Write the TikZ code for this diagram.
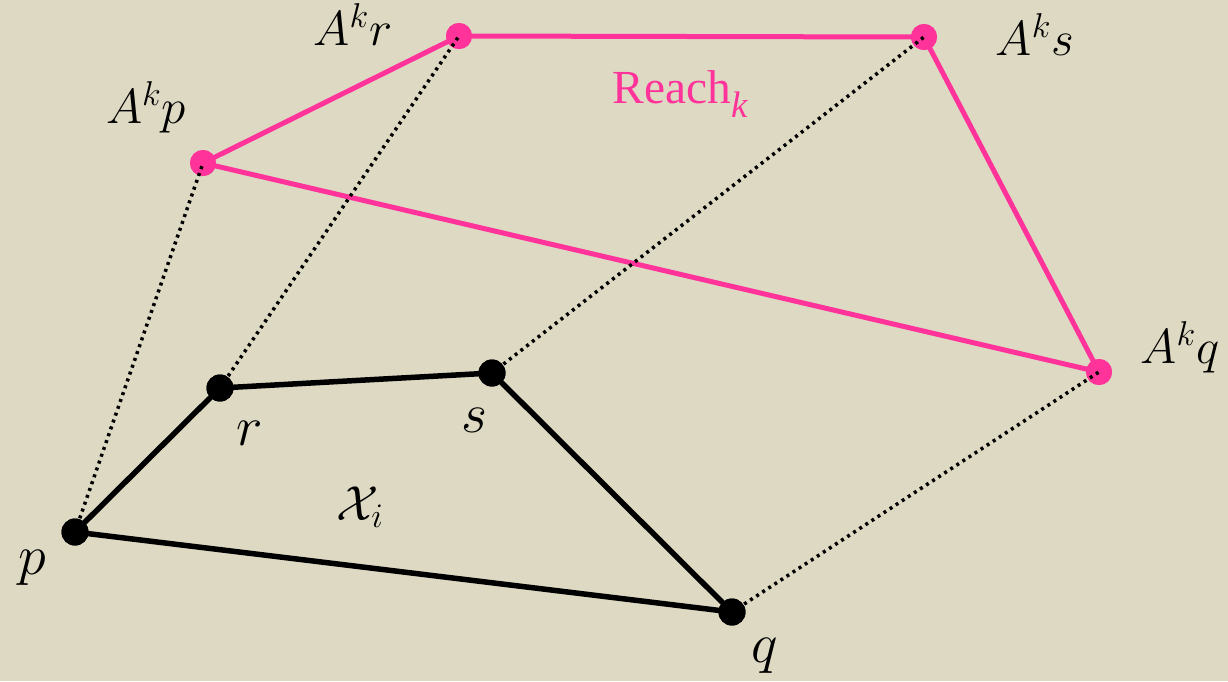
\RequirePackage{fix-cm}
\documentclass[tikz,border=0pt]{standalone}
\usepackage{fontspec}
\newfontfamily\reachfont{Liberation Serif}
\definecolor{bgc}{RGB}{221,217,195}
\definecolor{pinkc}{RGB}{255,51,153}
\tikzset{
  bdot/.style={circle,fill=black,inner sep=0pt,minimum size=27*0.02cm},
  pdot/.style={circle,fill=pinkc,inner sep=0pt,minimum size=26*0.02cm},
  bline/.style={line width=0.11cm,black},
  pline/.style={line width=0.1cm,pinkc},
  dline/.style={line width=0.07cm,black,dash pattern=on 0.06cm off 0.085cm},
  lab/.style={anchor=base,inner sep=0pt,font=\fontsize{28}{32}\selectfont},
  slab/.style={anchor=base,inner sep=0pt,font=\fontsize{32}{36}\selectfont},
  reach/.style={anchor=base,inner sep=0pt,text=pinkc,font=\reachfont\fontsize{27}{32}\selectfont}
}
\begin{document}
\begin{tikzpicture}[x=0.02cm,y=-0.02cm]
\fill[bgc] (0,0) rectangle (1228,681);
\useasboundingbox (0,0) rectangle (1228,681);
% pink polygon
\node[pdot] (Ap) at (203,163) {};
\node[pdot] (Ar) at (459,36) {};
\node[pdot] (As) at (924,37) {};
\node[pdot] (Aq) at (1099,372) {};
\draw[pline] (Ap.center) -- (Ar.center) -- (As.center) -- (Aq.center) -- (Ap.center);
\node[pdot] at (Ap) {};
\node[pdot] at (Ar) {};
\node[pdot] at (As) {};
\node[pdot] at (Aq) {};
% black polygon
\node[bdot] (p) at (75,532) {};
\node[bdot] (r) at (220,388) {};
\node[bdot] (s) at (492,373) {};
\node[bdot] (q) at (732,612) {};
\draw[dline] (p.center) -- (Ap.center);
\draw[dline] (r.center) -- (Ar.center);
\draw[dline] (s.center) -- (As.center);
\draw[dline] (q.center) -- (Aq.center);
\draw[bline] (p.center) -- (r.center) -- (s.center) -- (q.center) -- (p.center);
\node[bdot] at (p) {};
\node[bdot] at (r) {};
\node[bdot] at (s) {};
\node[bdot] at (q) {};
% labels
\node[slab] (lp) at (32,574) {$p$};
\node[slab] (lr) at (250,445) {$r$};
\node[slab] (ls) at (474,432) {$s$};
\node[slab] (lq) at (765,662) {$q$};
\node[lab] (lx) at (360,520) {$\mathcal{X}_i$};
\node[lab] (lAp) at (146,123) {$A^k p$};
\node[lab] (lAr) at (353,45) {$A^k r$};
\node[lab] (lAs) at (1035,55) {$A^k s$};
\node[lab] (lAq) at (1180,363) {$A^k q$};
\node[reach] (lreach) at (680,103) {Reach\raisebox{-0.3em}{\fontsize{21}{24}\selectfont\itshape k}};
\end{tikzpicture}
\end{document}
